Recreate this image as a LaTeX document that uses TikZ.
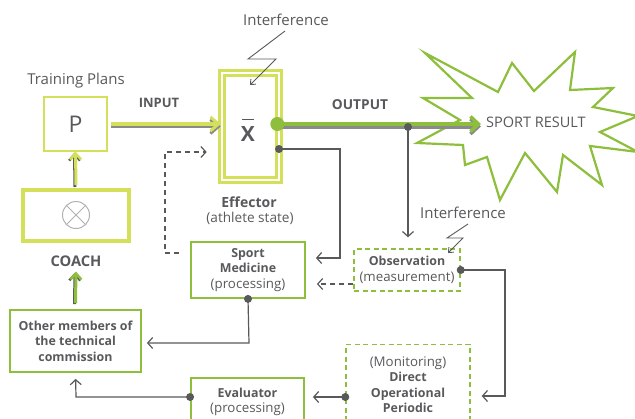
\documentclass[tikz,border=0pt]{standalone}
\usepackage{fontspec}
\setmainfont{Open Sans}
\usetikzlibrary{arrows.meta,calc}
\definecolor{lgreen}{HTML}{D5E05A}
\definecolor{dgreen}{HTML}{8DBE3C}
\definecolor{tgray}{HTML}{58595B}
\definecolor{sgray}{HTML}{8A8A8A}
\newcommand{\boxb}[1]{{\bfseries\fontsize{12.4}{15.5}\selectfont #1}}
\tikzset{
  txt/.style={text=tgray, font=\fontsize{15}{17}\selectfont, inner sep=0pt},
  btxt/.style={text=tgray, font=\bfseries\fontsize{13.5}{15}\selectfont, inner sep=0pt},
  gbox/.style={draw=dgreen, line width=1.8pt, align=center, text=tgray, font=\fontsize{13.3}{15.5}\selectfont, inner sep=2pt},
  dbox/.style={gbox, line width=1.4pt, dash pattern=on 5pt off 3.5pt},
  conn/.style={draw=tgray, line width=1.2pt, -{Straight Barb[length=5pt,width=11pt,line width=1.2pt]}},
  dconn/.style={conn, dash pattern=on 5pt off 4pt},
  jdot/.style={circle, fill=tgray, inner sep=0pt, minimum size=8pt},
  bolt/.style={draw=tgray, line width=0.9pt, -{Straight Barb[length=4pt,width=7pt,line width=0.9pt]}},
}
\begin{document}
\begin{tikzpicture}[x=1pt,y=-1pt]
\useasboundingbox (0,0) rectangle (635,418);
\clip (0,0) rectangle (635,418);

% Sport result star
\draw[dgreen, line width=2.2pt, line join=miter, fill=white]
  (425,53) -- (498,92) -- (512,63) -- (534,91) -- (575,52) -- (570,90) --
  (613,88) -- (593,107) -- (638,116) -- (600,132) -- (638,152) -- (590,146) --
  (602,185) -- (563,155) -- (557,192) -- (525,153) -- (500,200) -- (487,157) --
  (465,165) -- (463,145) -- (417,143) -- (460,120) -- (423,98) -- (472,98) -- cycle;
\node[txt, font=\fontsize{14.5}{16}\selectfont] (SR) at (536,122) {SPORT RESULT};
\coordinate (srtip) at (481,124);

% Training plans
\node[txt] (TP) at (76,81) {Training Plans};
\node[draw=lgreen, line width=1.3pt, minimum width=63pt, minimum height=54pt, text=tgray,
      font=\fontsize{23}{23}\selectfont, inner sep=0pt] (P) at (75.5,124) {P};

% Coach
\node[draw=lgreen, line width=4pt, minimum width=106pt, minimum height=51pt] (CB) at (76,215.5) {};
\node[circle, draw=gray!60, line width=1pt, minimum size=27pt, inner sep=0pt] (CX) at (76,215) {};
\draw[gray!60, line width=1pt] (CX.north west) -- (CX.south east);
\draw[gray!60, line width=1pt] (CX.north east) -- (CX.south west);
\node[btxt, font=\bfseries\fontsize{14.7}{16}\selectfont] (CL) at (76,261) {COACH};

% Effector
\node[draw=lgreen, line width=2.6pt, double=white, double distance=2.4pt,
      minimum width=57pt, minimum height=107pt, inner sep=0pt] (X) at (250.5,126.5) {};
\node[text=tgray, font=\bfseries\fontsize{21}{21}\selectfont, inner sep=0pt] (XL) at (248,134) {X};
\draw[tgray, line width=1.1pt] ($(XL.north)+(-6,-7)$) -- ($(XL.north)+(6,-7)$);
\node[btxt, font=\bfseries\fontsize{14}{16}\selectfont] (EF) at (249,202) {Effector};
\node[txt, font=\fontsize{13.6}{16}\selectfont] (AS) at (250,218) {(athlete state)};

% Interference 1
\node[txt] (I1) at (286,20) {Interference};
\draw[bolt] ($(I1.south)+(-1,5)$) -- (248,59) -- (276,59) -- (250,85);

% Input
\node[btxt, font=\bfseries\fontsize{13}{15}\selectfont] (IN) at (159,103) {INPUT};
\draw[sgray, line width=3.5pt, -{Straight Barb[length=8pt,width=14pt,line width=3pt]}]
  ($(P.east)+(3,2.5)$) -- ($(P.east -| X.west)+(0,2.5)$);
\draw[lgreen, line width=3.5pt, -{Straight Barb[length=8pt,width=14pt,line width=3pt]}]
  ($(P.east)+(3,0)$) -- (P.east -| X.west);

% Output
\node[btxt, font=\bfseries\fontsize{13.7}{15}\selectfont] (OUT) at (360,105) {OUTPUT};
\coordinate (xo1) at ($(X.east |- P.east)+(-3,0)$);
\draw[sgray, line width=4.5pt, -{Straight Barb[length=8pt,width=15pt,line width=3.5pt]}]
  ($(xo1)+(0,2.5)$) -- ($(srtip)+(0,2.5)$);
\draw[dgreen, line width=4.5pt, -{Straight Barb[length=8pt,width=15pt,line width=3.5pt]}]
  (xo1) -- (srtip);
\node[circle, fill=dgreen, inner sep=0pt, minimum size=14pt] at (xo1) {};

% Process boxes
\node[gbox, minimum width=114pt, minimum height=56pt] (SM) at (248,270)
  {\boxb{Sport}\\\boxb{Medicine}\\(processing)};
\node[gbox, minimum width=131pt, minimum height=62pt] (OM) at (75.5,341)
  {\boxb{Other members of}\\\boxb{the technical}\\\boxb{commission}};
\node[gbox, minimum width=113pt, minimum height=48pt, anchor=north] (EV) at (247.5,377)
  {\boxb{Evaluator}\\(processing)};
\node[dbox, minimum width=106pt, minimum height=42pt] (OB) at (407,270)
  {\boxb{Observation}\\(measurement)};
\node[dbox, minimum width=124pt, minimum height=80pt, anchor=north] (MO) at (408,344)
  {(Monitoring)\\\boxb{Direct}\\\boxb{Operational}\\\boxb{Periodic}};

% Interference 2
\node[txt] (I2) at (463,213) {Interference};
\draw[bolt] ($(I2.south)+(5,5)$) -- (447,238) -- (463,238) -- (448,253);

% Coach -> P, Other -> Coach
\draw[tgray, line width=3pt, -{Straight Barb[length=6pt,width=11pt,line width=2.5pt]}]
  ($(CB.north)+(-1,-1)$) -- ($(P.south)+(-1,1)$);
\draw[lgreen, line width=3pt, -{Straight Barb[length=6pt,width=11pt,line width=2.5pt]}]
  ($(CB.north)+(0,-3)$) -- (P.south);
\draw[tgray, line width=3pt, -{Straight Barb[length=6pt,width=11pt,line width=2.5pt]}]
  ($(OM.north)+(-1,-5)$) -- ($(CL.south)+(-1,6)$);
\draw[dgreen, line width=3pt, -{Straight Barb[length=6pt,width=11pt,line width=2.5pt]}]
  ($(OM.north)+(0,-6)$) -- ($(CL.south)+(0,5)$);

% Connectors
\coordinate (xo2) at (279,149);
\coordinate (c1) at (340,258);
\draw[conn, shorten >=10pt] (xo2) -| (c1) -- (c1 -| SM.east);
\node[jdot] at (xo2) {};

\coordinate (od) at (408,127);
\draw[conn, shorten >=11pt] (od) -- (od |- OB.north);
\node[jdot] at (od) {};

\draw[dconn, shorten >=11pt] ($(OB.west)+(0,14)$) -- ($(SM.east)+(0,14)$);

\coordinate (c2) at (165,253);
\coordinate (c3) at (165,152);
\draw[dconn, shorten >=14pt] ($(SM.west)+(-11,-17)$) -- (c2) -- (c3) -- (c3 -| X.west);

\coordinate (c4) at (249,343);
\draw[conn, shorten >=5pt] (SM.south) -- (c4) -- (c4 -| OM.east);
\node[jdot] at (SM.south) {};

\coordinate (c5) at (76,397);
\draw[conn, shorten >=6pt] (EV.west |- c5) -- (c5) -- (OM.south);
\node[jdot] at (EV.west |- c5) {};

\coordinate (c6) at (505,396);
\draw[conn, shorten >=11pt] (OB.east) -| (c6) -- (c6 -| MO.east);
\node[jdot] at (OB.east) {};

\draw[conn, shorten >=8pt] (MO.west |- c5) -- (EV.east |- c5);
\node[jdot] at (MO.west |- c5) {};
\end{tikzpicture}
\end{document}
